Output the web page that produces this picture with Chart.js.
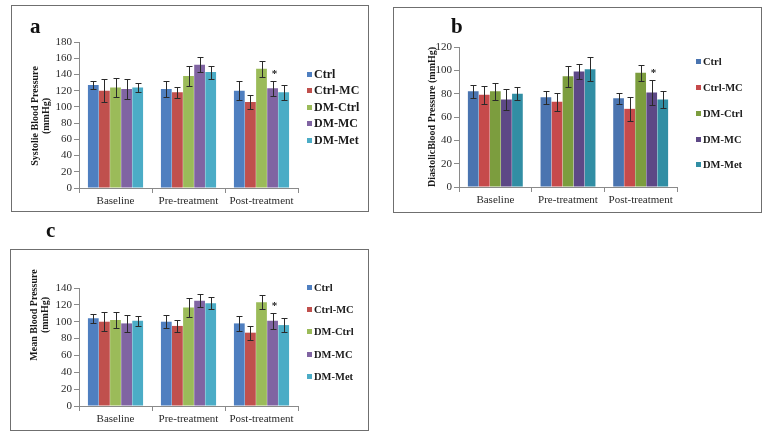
<!DOCTYPE html>
<html lang="en">
<head>
    <meta charset="UTF-8">
    <title>Blood Pressure</title>
    <script src="https://cdn.jsdelivr.net/npm/chart.js"></script>
    <style>
        body { margin: 0; background: #fff; width: 765px; height: 439px; position: relative; overflow: hidden; }
        .panel { position: absolute; border: 1px solid #6f6f6f; box-sizing: border-box; }
        .panel canvas { position: absolute; left: 0; top: 0; }
        .letter { position: absolute; font: bold 21px "Liberation Serif", serif; color: #111; }
    </style>
</head>
<body>
    <div class="panel" id="pa" style="left:11px;top:5px;width:358px;height:207px;"><canvas id="chartA"></canvas></div>
    <div class="panel" id="pb" style="left:393px;top:7px;width:369px;height:206px;"><canvas id="chartB"></canvas></div>
    <div class="panel" id="pc" style="left:10px;top:249px;width:359px;height:182px;"><canvas id="chartC"></canvas></div>
    <div class="letter" style="left:30px;top:14px;">a</div>
    <div class="letter" style="left:451px;top:14px;">b</div>
    <div class="letter" style="left:46px;top:218px;">c</div>

    <script>
        const categories = ['Baseline', 'Pre-treatment', 'Post-treatment'];
        const groups = ['Ctrl', 'Ctrl-MC', 'DM-Ctrl', 'DM-MC', 'DM-Met'];

        // Systolic (panel a): value per group, per category
        const sbpCtrl   = [127, 122, 120];
        const sbpCtrlMC = [120, 118, 106];
        const sbpDMCtrl = [124, 138, 147];
        const sbpDMMC   = [122, 152, 123];
        const sbpDMMet  = [124, 143, 118];
        const sbpErrCtrl   = [5, 10, 12];
        const sbpErrCtrlMC = [14, 7, 9];
        const sbpErrDMCtrl = [12, 12, 10];
        const sbpErrDMMC   = [12, 9, 9];
        const sbpErrDMMet  = [6, 8, 9];

        // Diastolic (panel b)
        const dbpCtrl   = [82, 77, 76];
        const dbpCtrlMC = [79, 73, 67];
        const dbpDMCtrl = [82, 95, 98];
        const dbpDMMC   = [75, 99, 81];
        const dbpDMMet  = [80, 101, 75];
        const dbpErrCtrl   = [5.5, 5.5, 5];
        const dbpErrCtrlMC = [8, 8, 10];
        const dbpErrDMCtrl = [7, 9, 7];
        const dbpErrDMMC   = [9, 6.5, 10.5];
        const dbpErrDMMet  = [5.5, 10, 7.5];

        // Mean (panel c)
        const mbpCtrl   = [104, 100, 98];
        const mbpCtrlMC = [100, 95, 87];
        const mbpDMCtrl = [102, 117, 123];
        const mbpDMMC   = [98, 125, 101];
        const mbpDMMet  = [101, 122, 96];
        const mbpErrCtrl   = [5.5, 8, 8.5];
        const mbpErrCtrlMC = [11, 7, 8.5];
        const mbpErrDMCtrl = [10, 11, 8.5];
        const mbpErrDMMC   = [10.5, 7.5, 9.5];
        const mbpErrDMMet  = [6, 7.5, 8.5];

        // significance mark (dataset index 3 = DM-MC, category 2 = Post-treatment)
        const starMark = { dataset: 3, index: 2 };

        const coloursA = ['#4f7fc0', '#c0504d', '#9bbb59', '#8064a2', '#4bacc6'];
        const coloursB = ['#4a74b0', '#c64a4b', '#7c9d3e', '#5d4886', '#318ea4'];

        const serif = '"Liberation Serif", "Times New Roman", serif';

        // Draws error bars, the asterisk, the y title and the legend
        const extrasPlugin = {
            id: 'extras',
            afterDatasetsDraw(chart, args, opts) {
                const ctx = chart.ctx;
                const y = chart.scales.y;
                ctx.save();
                ctx.strokeStyle = '#2a2a2a';
                ctx.lineWidth = 1;
                chart.data.datasets.forEach((ds, di) => {
                    const meta = chart.getDatasetMeta(di);
                    meta.data.forEach((bar, i) => {
                        const v = ds.data[i], e = ds.errors[i];
                        const top = Math.round(y.getPixelForValue(v + e)) + 0.5;
                        const bot = Math.round(y.getPixelForValue(v - e)) + 0.5;
                        const x = Math.round(bar.x) + 0.5;
                        ctx.beginPath();
                        ctx.moveTo(x, top); ctx.lineTo(x, bot);
                        ctx.moveTo(x - 3, top); ctx.lineTo(x + 3, top);
                        ctx.moveTo(x - 3, bot); ctx.lineTo(x + 3, bot);
                        ctx.stroke();
                        if (di === starMark.dataset && i === starMark.index) {
                            ctx.fillStyle = '#222';
                            ctx.font = 'bold 11px ' + serif;
                            ctx.textAlign = 'center';
                            ctx.textBaseline = 'middle';
                            ctx.fillText('*', x + 1, top - 7);
                        }
                    });
                });

                // y axis title
                ctx.fillStyle = '#1a1a1a';
                ctx.font = 'bold 10px ' + serif;
                ctx.textAlign = 'center';
                ctx.textBaseline = 'middle';
                opts.yTitle.forEach((line, k) => {
                    ctx.save();
                    ctx.translate(opts.titleX + k * 11, opts.titleY);
                    ctx.rotate(-Math.PI / 2);
                    ctx.fillText(line, 0, 0);
                    ctx.restore();
                });

                // legend
                ctx.font = 'bold ' + opts.legendSize + 'px ' + serif;
                ctx.textAlign = 'left';
                chart.data.datasets.forEach((ds, di) => {
                    const ly = opts.legendY[di];
                    ctx.fillStyle = ds.backgroundColor;
                    ctx.fillRect(opts.legendX, ly - 3, 5, 5);
                    ctx.fillStyle = '#1a1a1a';
                    ctx.fillText(ds.label, opts.legendX + 7, ly);
                });
                ctx.restore();
            }
        };

        function makeChart(id, w, h, values, errors, colours, cfg) {
            const canvas = document.getElementById(id);
            canvas.width = w; canvas.height = h;
            canvas.style.width = w + 'px'; canvas.style.height = h + 'px';
            new Chart(canvas.getContext('2d'), {
                type: 'bar',
                data: {
                    labels: categories,
                    datasets: groups.map((g, i) => ({
                        label: g,
                        data: values[i],
                        errors: errors[i],
                        backgroundColor: colours[i],
                        categoryPercentage: 0.76,
                        barPercentage: 0.97
                    }))
                },
                options: {
                    responsive: false,
                    animation: false,
                    layout: { padding: cfg.padding },
                    plugins: {
                        legend: { display: false },
                        tooltip: { enabled: false },
                        extras: cfg.extras
                    },
                    scales: {
                        x: {
                            grid: { drawOnChartArea: false, drawTicks: true, tickLength: 5, color: '#8a8a8a', offset: true },
                            border: { color: '#8a8a8a' },
                            ticks: { color: '#2a2a2a', font: { family: serif, size: 11 }, padding: 2 },
                            afterFit(s) { s.height = cfg.xHeight; }
                        },
                        y: {
                            min: 0, max: cfg.max,
                            grid: { drawOnChartArea: false, drawTicks: true, tickLength: 5, color: '#8a8a8a' },
                            border: { color: '#8a8a8a' },
                            ticks: { stepSize: cfg.step, color: '#2a2a2a', font: { family: serif, size: 11 }, padding: 2 },
                            afterFit(s) { s.width = cfg.yWidth; }
                        }
                    }
                },
                plugins: [extrasPlugin]
            });
        }

        makeChart('chartA', 356, 205,
            [sbpCtrl, sbpCtrlMC, sbpDMCtrl, sbpDMMC, sbpDMMet],
            [sbpErrCtrl, sbpErrCtrlMC, sbpErrDMCtrl, sbpErrDMMC, sbpErrDMMet],
            coloursA,
            { max: 180, step: 20, yWidth: 67, xHeight: 23, padding: { left: 0, right: 70, top: 36, bottom: 0 },
              extras: { yTitle: ['Systolie Blood Pressure', '(mmHg)'], titleX: 23, titleY: 110, legendX: 295, legendSize: 12, legendY: [69, 85, 102, 118, 135] } });

        makeChart('chartB', 367, 204,
            [dbpCtrl, dbpCtrlMC, dbpDMCtrl, dbpDMMC, dbpDMMet],
            [dbpErrCtrl, dbpErrCtrlMC, dbpErrDMCtrl, dbpErrDMMC, dbpErrDMMet],
            coloursB,
            { max: 120, step: 20, yWidth: 65, xHeight: 25, padding: { left: 0, right: 84, top: 39, bottom: 0 },
              extras: { yTitle: ['DiastolicBlood Pressure (mmHg)'], titleX: 38, titleY: 109, legendX: 302, legendSize: 10.5, legendY: [54, 80, 106, 132, 157] } });

        makeChart('chartC', 357, 180,
            [mbpCtrl, mbpCtrlMC, mbpDMCtrl, mbpDMMC, mbpDMMet],
            [mbpErrCtrl, mbpErrCtrlMC, mbpErrDMCtrl, mbpErrDMMC, mbpErrDMMet],
            coloursA,
            { max: 140, step: 20, yWidth: 68, xHeight: 24, padding: { left: 0, right: 70, top: 38, bottom: 0 },
              extras: { yTitle: ['Mean Blood Pressure', '(mmHg)'], titleX: 23, titleY: 65, legendX: 296, legendSize: 10.5, legendY: [38, 60, 82, 105, 127] } });
    </script>
</body>
</html>
